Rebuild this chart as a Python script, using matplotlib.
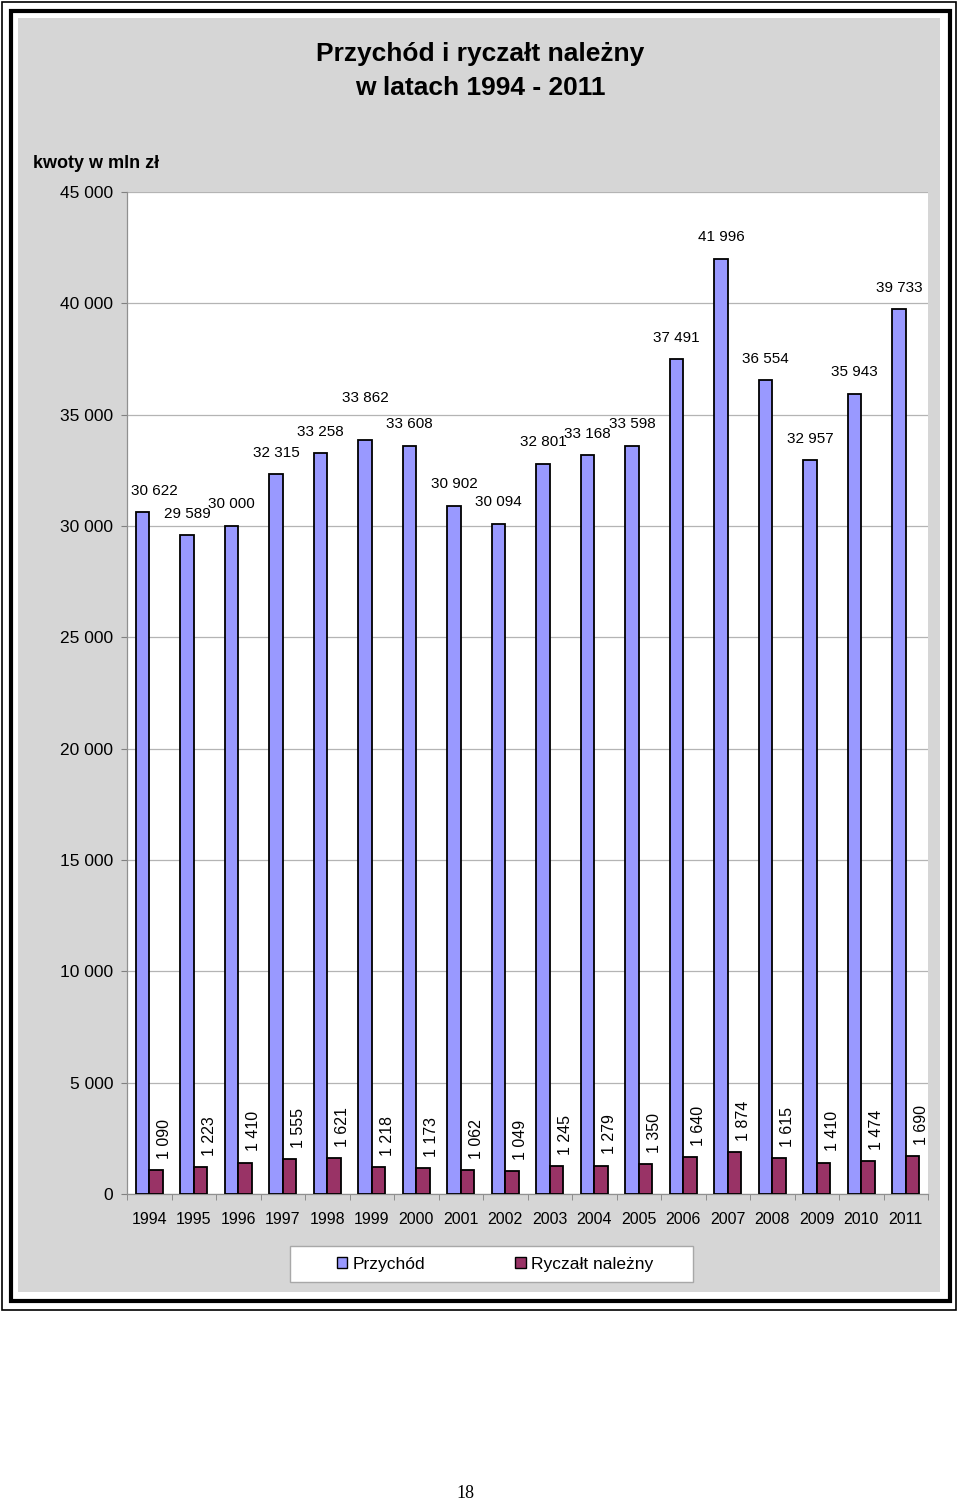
import matplotlib
matplotlib.use("Agg")
import matplotlib.pyplot as plt
from matplotlib.patches import Rectangle, Patch
import numpy as np

plt.rcParams['font.family'] = ['Liberation Sans', 'DejaVu Sans']

# data (mln zł)
years = ['1994', '1995', '1996', '1997', '1998', '1999', '2000', '2001', '2002',
         '2003', '2004', '2005', '2006', '2007', '2008', '2009', '2010', '2011']
przychod = [30622, 29589, 30000, 32315, 33258, 33862, 33608, 30902, 30094,
            32801, 33168, 33598, 37491, 41996, 36554, 32957, 35943, 39733]
ryczalt = [1090, 1223, 1410, 1555, 1621, 1218, 1173, 1062, 1049,
           1245, 1279, 1350, 1640, 1874, 1615, 1410, 1474, 1690]
series_names = ['Przychód', 'Ryczałt należny']
yticks = [0, 5000, 10000, 15000, 20000, 25000, 30000, 35000, 40000, 45000]

W, H = 960, 1501
PURPLE = '#9999ff'
MAROON = '#993366'
GRID = '#b4b4b4'


def fx(px):
    return px / W


def fy(py):
    return 1 - py / H


def fmt(v):
    return f"{v:,}".replace(",", " ")


fig = plt.figure(figsize=(W / 100, H / 100), dpi=100)
fig.patch.set_facecolor('white')

# page frame: thin outer line, thick inner line, gray chart area
fig.add_artist(Rectangle((fx(2), fy(1310)), fx(956) - fx(2), fy(2) - fy(1310),
                         transform=fig.transFigure, fill=False, ec='black', lw=1.2, zorder=-3))
fig.add_artist(Rectangle((fx(11), fy(1301)), fx(950) - fx(11), fy(11) - fy(1301),
                         transform=fig.transFigure, fill=False, ec='black', lw=3, zorder=-3))
fig.add_artist(Rectangle((fx(18), fy(1292)), fx(940) - fx(18), fy(18) - fy(1292),
                         transform=fig.transFigure, fc='#d6d6d6', ec='none', zorder=-2))

ax = fig.add_axes([fx(127), fy(1194), fx(928) - fx(127), fy(192) - fy(1194)])
ax.set_facecolor('white')

x = np.arange(len(years))
w = 0.3
b1 = ax.bar(x + 0.35, przychod, width=w, color=PURPLE, edgecolor='black', linewidth=1.3, zorder=3)
b2 = ax.bar(x + 0.65, ryczalt, width=w, color=MAROON, edgecolor='black', linewidth=1.3, zorder=3)

ax.set_xlim(0, len(years))
ax.set_ylim(0, 45000)
ax.set_yticks(yticks)
ax.set_yticklabels([fmt(v) for v in yticks], fontsize=12.5)
ax.yaxis.grid(True, color=GRID, lw=0.9, zorder=0)

# years under the groups, tick marks on group borders
ax.set_xticks(x + 0.5)
ax.set_xticklabels(years, fontsize=11.5)
ax.set_xticks(np.arange(len(years) + 1), minor=True)
ax.tick_params(axis='x', which='major', length=0, pad=13)
ax.tick_params(axis='x', which='minor', length=4, color='#808080')
ax.tick_params(axis='y', length=4, color='#808080', pad=6)

for s in ['top', 'right']:
    ax.spines[s].set_visible(False)
for s in ['left', 'bottom']:
    ax.spines[s].set_color('#909090')
    ax.spines[s].set_linewidth(0.9)

# labels above Przychód bars
for i, (bar, v) in enumerate(zip(b1, przychod)):
    dx, dy = 0, 15.5
    if i == 0:
        dx = 8.5
    if years[i] == '1999':
        dy = 30
    ax.annotate(fmt(v), (bar.get_x() + bar.get_width() / 2, v),
                xytext=(dx, dy), textcoords='offset points',
                ha='center', va='center', fontsize=11)

# rotated labels above Ryczałt bars
for bar, v in zip(b2, ryczalt):
    ax.annotate(fmt(v), (bar.get_x() + bar.get_width() / 2, v),
                xytext=(6.5, 8), textcoords='offset points',
                ha='center', va='bottom', rotation=90, fontsize=11.5)

fig.text(0.5, fy(71), 'Przychód i ryczałt należny\nw latach 1994 - 2011',
         ha='center', va='center', fontsize=19, fontweight='bold', linespacing=1.55)
fig.text(fx(33), fy(164), 'kwoty w mln zł', ha='left', va='center',
         fontsize=13, fontweight='bold')

# legend box
fig.add_artist(Rectangle((fx(290), fy(1282)), fx(693) - fx(290), fy(1246) - fy(1282),
                         transform=fig.transFigure, fc='white', ec='#a8a8a8', lw=1))
handles = [Patch(fc=PURPLE, ec='black', lw=1), Patch(fc=MAROON, ec='black', lw=1)]
fig.legend(handles, series_names, loc='center', bbox_to_anchor=(fx(495), fy(1264)),
           ncol=2, frameon=False, fontsize=12.5, columnspacing=5.2,
           handlelength=0.6, handleheight=0.6, handletextpad=0.3)

fig.text(fx(465), fy(1493), '18', ha='center', va='center', fontsize=13,
         family=['Liberation Serif', 'DejaVu Serif'])

fig.savefig('out.png', dpi=100)
